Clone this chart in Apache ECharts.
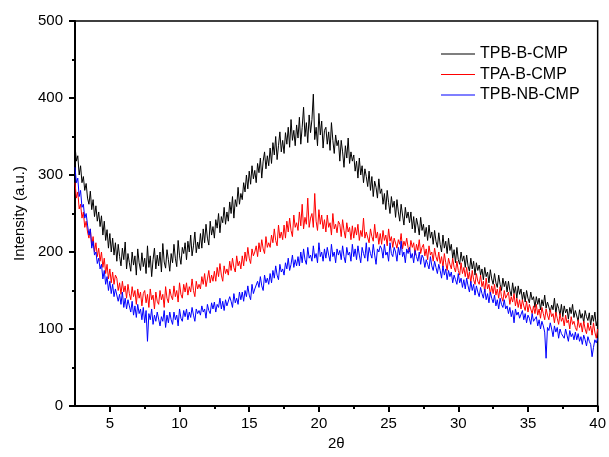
<!DOCTYPE html>
<html>
<head>
<meta charset="utf-8">
<title>XRD</title>
<script src="https://cdn.jsdelivr.net/npm/echarts@6/dist/echarts.min.js"></script>
<style>
  html, body { margin: 0; padding: 0; background: #ffffff; }
  #chart { width: 609px; height: 457px; }
</style>
</head>
<body>
<div id="chart"></div>
<script>
// 2θ grid of the scans: 2.5 .. 40.0, step 0.1
const thetaStart = 2.5;
const thetaStep = 0.1;
const seriesNames = ['TPB-B-CMP', 'TPA-B-CMP', 'TPB-NB-CMP'];
const xMajorTicks = [5, 10, 15, 20, 25, 30, 35, 40];
const xMinorTicks = [7.5, 12.5, 17.5, 22.5, 27.5, 32.5, 37.5];

// intensities, one row per degree of 2θ
const tpbB = [
  338, 318, 325, 300, 312, 290, 298, 280, 289, 270,
  262, 279, 255, 268, 246, 260, 240, 252, 233, 247,
  222, 240, 215, 229, 205, 224, 200, 218, 196, 212,
  188, 210, 194, 182, 205, 190, 213, 178, 198, 186,
  175, 200, 183, 195, 170, 204, 186, 176, 199, 181,
  192, 172, 208, 180, 195, 168, 190, 205, 178, 196,
  182, 200, 174, 211, 187, 179, 203, 190, 175, 198,
  186, 210, 192, 181, 215, 195, 184, 206, 198, 212,
  190, 214, 200, 222, 195, 208, 226, 199, 213, 204,
  224, 205, 230, 212, 236, 218, 209, 240, 222, 233,
  218, 242, 231, 250, 225, 246, 238, 258, 236, 252,
  240, 265, 250, 272, 244, 268, 259, 284, 262, 276,
  268, 290, 278, 300, 282, 305, 288, 312, 295, 306,
  290, 315, 303, 322, 296, 318, 330, 308, 325, 312,
  335, 315, 342, 326, 350, 320, 338, 356, 330, 345,
  328, 355, 340, 362, 336, 372, 345, 358, 338, 365,
  348, 375, 340, 362, 388, 350, 368, 342, 378, 355,
  372, 405, 346, 362, 338, 380, 352, 370, 335, 358,
  362, 340, 356, 332, 368, 345, 328, 352, 338, 345,
  318, 345, 330, 310, 338, 322, 348, 315, 330, 318,
  326, 305, 318, 296, 322, 300, 312, 290, 308, 298,
  285, 305, 280, 298, 272, 292, 284, 270, 295, 276,
  282, 262, 276, 255, 280, 264, 250, 272, 258, 266,
  245, 268, 252, 240, 262, 248, 235, 258, 244, 252,
  238, 252, 230, 246, 225, 244, 235, 222, 245, 228,
  236, 220, 232, 215, 235, 218, 226, 210, 228, 214,
  206, 225, 210, 200, 222, 205, 214, 198, 218, 202,
  210, 192, 203, 186, 206, 190, 184, 200, 188, 195,
  180, 196, 182, 175, 192, 178, 188, 170, 186, 176,
  183, 170, 178, 164, 180, 168, 174, 160, 177, 165,
  158, 172, 160, 154, 170, 158, 150, 166, 155, 162,
  148, 162, 150, 143, 160, 146, 155, 140, 156, 145,
  152, 138, 148, 135, 150, 140, 134, 148, 138, 142,
  128, 142, 132, 140, 125, 138, 130, 144, 127, 135,
  136, 122, 131, 125, 140, 120, 133, 127, 118, 132,
  116, 130, 121, 126, 113, 128, 120, 132, 115, 124,
  122, 110, 125, 114, 120, 108, 124, 116, 111, 121,
  105, 118, 110, 122, 104, 112
];
const tpaB = [
  290, 270, 278, 256, 262, 244, 252, 232, 240, 226,
  218, 230, 208, 220, 200, 212, 194, 205, 188, 200,
  180, 192, 172, 184, 165, 178, 160, 174, 158, 170,
  166, 150, 160, 145, 162, 148, 156, 140, 158, 146,
  138, 155, 142, 150, 132, 152, 140, 148, 130, 146,
  150, 134, 145, 128, 152, 138, 144, 126, 148, 136,
  132, 150, 138, 145, 128, 155, 140, 134, 152, 143,
  138, 156, 142, 150, 135, 160, 145, 140, 158, 148,
  160, 144, 155, 148, 165, 150, 142, 162, 152, 158,
  152, 168, 158, 172, 155, 165, 176, 160, 170, 162,
  175, 162, 180, 168, 185, 170, 162, 182, 172, 178,
  170, 188, 176, 192, 180, 174, 195, 182, 188, 178,
  195, 182, 200, 188, 206, 192, 185, 204, 195, 200,
  208, 194, 212, 200, 216, 204, 198, 220, 206, 212,
  206, 222, 212, 230, 215, 208, 235, 218, 226, 216,
  235, 218, 240, 226, 244, 228, 220, 248, 232, 238,
  228, 252, 234, 262, 230, 245, 236, 270, 232, 244,
  250, 232, 276, 240, 228, 255, 236, 248, 230, 242,
  226, 248, 232, 238, 222, 250, 230, 236, 225, 240,
  236, 220, 242, 228, 218, 238, 226, 232, 216, 234,
  218, 232, 222, 236, 215, 228, 220, 244, 218, 226,
  228, 212, 230, 220, 214, 236, 218, 226, 210, 224,
  210, 228, 215, 222, 208, 230, 214, 220, 206, 218,
  220, 205, 216, 210, 224, 204, 214, 208, 218, 206,
  200, 215, 206, 212, 196, 210, 202, 216, 198, 206,
  210, 195, 204, 190, 208, 196, 200, 188, 205, 194,
  188, 200, 185, 194, 180, 198, 186, 176, 192, 184,
  178, 192, 180, 174, 188, 176, 170, 186, 172, 180,
  168, 180, 165, 174, 160, 176, 164, 158, 172, 162,
  158, 170, 155, 162, 148, 166, 152, 158, 145, 156,
  146, 158, 144, 152, 140, 155, 142, 136, 150, 140,
  138, 148, 132, 142, 135, 146, 130, 140, 128, 138,
  126, 138, 130, 124, 136, 122, 132, 126, 120, 130,
  120, 132, 118, 126, 114, 128, 120, 112, 126, 118,
  112, 125, 116, 120, 108, 122, 114, 106, 120, 110,
  115, 104, 118, 108, 112, 100, 116, 106, 110, 102,
  98, 112, 102, 108, 96, 110, 100, 94, 108, 98,
  104, 92, 108, 96, 88, 100
];
const tpbNB = [
  310, 290, 296, 272, 280, 258, 262, 244, 250, 235,
  222, 230, 205, 214, 196, 200, 185, 192, 178, 184,
  165, 176, 158, 168, 150, 162, 146, 158, 142, 152,
  150, 136, 145, 132, 148, 128, 140, 126, 138, 130,
  122, 136, 118, 130, 115, 132, 120, 126, 112, 128,
  108, 124, 84, 120, 112, 126, 106, 118, 110, 122,
  120, 104, 116, 110, 124, 102, 118, 108, 122, 112,
  106, 122, 112, 118, 104, 126, 114, 110, 124, 116,
  126, 112, 122, 115, 128, 118, 110, 126, 120, 124,
  118, 130, 122, 126, 114, 132, 124, 120, 134, 126,
  135, 122, 132, 128, 140, 126, 136, 124, 138, 130,
  130, 142, 136, 128, 146, 134, 140, 132, 148, 138,
  148, 136, 150, 142, 156, 144, 138, 158, 146, 152,
  150, 162, 154, 168, 156, 150, 170, 160, 166, 158,
  172, 160, 176, 166, 182, 170, 164, 184, 174, 178,
  170, 186, 178, 192, 176, 184, 196, 180, 190, 182,
  194, 182, 200, 186, 204, 190, 184, 206, 192, 196,
  188, 208, 192, 198, 186, 212, 194, 200, 188, 204,
  192, 206, 196, 188, 210, 194, 200, 186, 204, 196,
  202, 190, 208, 194, 186, 206, 196, 200, 188, 210,
  194, 204, 190, 208, 196, 186, 206, 198, 192, 212,
  188, 206, 198, 192, 210, 196, 184, 204, 200, 208,
  204, 192, 210, 196, 200, 188, 212, 198, 194, 206,
  200, 188, 206, 196, 214, 194, 200, 186, 204, 198,
  206, 192, 198, 186, 202, 194, 188, 200, 184, 196,
  192, 180, 190, 184, 178, 194, 182, 176, 188, 180,
  172, 184, 176, 166, 182, 170, 178, 164, 176, 168,
  174, 160, 170, 164, 158, 172, 160, 166, 154, 164,
  152, 166, 156, 148, 162, 150, 158, 144, 156, 148,
  142, 154, 146, 140, 152, 138, 146, 134, 148, 140,
  134, 144, 130, 138, 126, 140, 132, 128, 138, 126,
  130, 120, 128, 116, 124, 108, 126, 118, 122, 114,
  116, 124, 112, 120, 108, 118, 114, 106, 120, 110,
  108, 116, 104, 112, 100, 110, 104, 96, 62, 102,
  98, 108, 100, 90, 104, 96, 102, 88, 100, 94,
  96, 88, 100, 92, 84, 98, 90, 94, 86, 96,
  86, 94, 84, 90, 80, 92, 86, 78, 90, 84,
  80, 64, 76, 86, 82, 88
];

const font = 'Liberation Sans, Arial, sans-serif';
const toPoints = (arr) => arr.map((v, i) => [+(thetaStart + i * thetaStep).toFixed(2), v]);

const chart = echarts.init(document.getElementById('chart'));
chart.setOption({
  animation: false,
  backgroundColor: '#ffffff',
  grid: {
    left: 75, right: 9, top: 21, bottom: 51,
    show: true, borderColor: '#000', borderWidth: 1.5
  },
  legend: {
    orient: 'vertical',
    left: 441, top: 44, padding: 0,
    icon: 'rect',
    itemWidth: 34, itemHeight: 1, itemGap: 0.5,
    textStyle: { fontSize: 16, lineHeight: 20, color: '#000', fontFamily: font },
    data: seriesNames
  },
  xAxis: [
    {
      type: 'value', min: 2.5, max: 40,
      name: '2θ', nameLocation: 'middle', nameGap: 30,
      nameTextStyle: { fontSize: 15, color: '#000', fontFamily: font },
      axisLine: { lineStyle: { color: '#000', width: 2 } },
      axisTick: { length: 6, lineStyle: { color: '#000', width: 2 }, customValues: xMajorTicks },
      axisLabel: { fontSize: 15, color: '#000', fontFamily: font, margin: 10, customValues: xMajorTicks },
      splitLine: { show: false }
    },
    {
      type: 'value', min: 2.5, max: 40, position: 'bottom',
      axisLine: { show: false },
      axisTick: { length: 3, lineStyle: { color: '#000', width: 2 }, customValues: xMinorTicks },
      axisLabel: { show: false, customValues: xMinorTicks },
      splitLine: { show: false }
    }
  ],
  yAxis: {
    type: 'value', min: 0, max: 500, interval: 100,
    name: 'Intensity (a.u.)', nameLocation: 'middle', nameGap: 47,
    nameTextStyle: { fontSize: 15, color: '#000', fontFamily: font },
    axisLine: { show: true, lineStyle: { color: '#000', width: 2 } },
    axisTick: { show: true, length: 6, lineStyle: { color: '#000', width: 2 } },
    minorTick: { show: true, splitNumber: 2, length: 3, lineStyle: { color: '#000', width: 2 } },
    axisLabel: { fontSize: 15, color: '#000', fontFamily: font, margin: 12 },
    splitLine: { show: false }
  },
  series: [
    { name: seriesNames[0], type: 'line', symbol: 'none', data: toPoints(tpbB),
      lineStyle: { color: '#000000', width: 1 }, itemStyle: { color: '#000000' } },
    { name: seriesNames[1], type: 'line', symbol: 'none', data: toPoints(tpaB),
      lineStyle: { color: '#ff0000', width: 1 }, itemStyle: { color: '#ff0000' } },
    { name: seriesNames[2], type: 'line', symbol: 'none', data: toPoints(tpbNB),
      lineStyle: { color: '#0000ff', width: 1 }, itemStyle: { color: '#0000ff' } }
  ]
});
</script>
</body>
</html>
